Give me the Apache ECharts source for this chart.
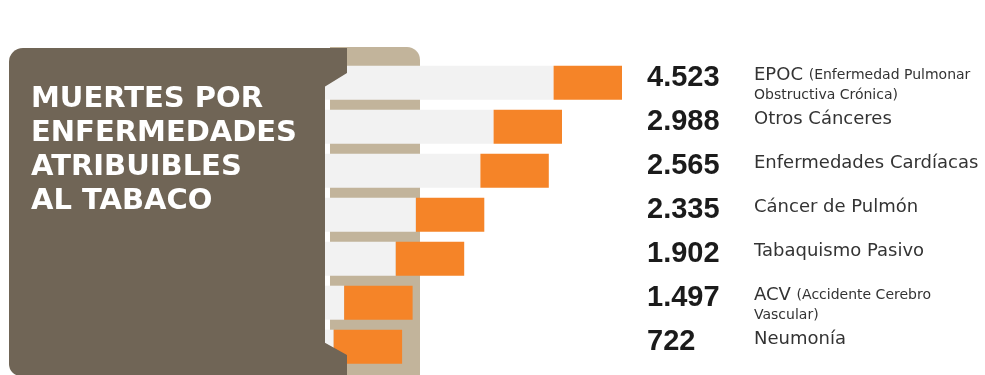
<!DOCTYPE html>
<html>
<head>
<meta charset="utf-8">
<script src="https://cdn.jsdelivr.net/npm/echarts@6/dist/echarts.min.js"></script>
<style>
  html, body { margin: 0; padding: 0; background: #fff; }
  #chart { width: 985px; height: 375px; }
</style>
</head>
<body>
<div id="chart"></div>
<script>
// causas de muerte, de arriba hacia abajo
var causas = ['EPOC', 'Otros Cánceres', 'Enfermedades Cardíacas', 'Cáncer de Pulmón',
              'Tabaquismo Pasivo', 'ACV', 'Neumonía'];
var detalles = [['(Enfermedad Pulmonar', 'Obstructiva Crónica)'], null, null, null, null,
                ['(Accidente Cerebro', 'Vascular)'], null];
var muertes = [4523, 2988, 2565, 2335, 1902, 1497, 722];
// largo de cada cigarrillo (% del más largo), no es proporcional a muertes
var largo = [100, 80, 75.6, 54.1, 47.4, 30.2, 26.7];
var filtro = 22.8;

var papel = largo.map(function (l) { return l - filtro; });
var filtros = largo.map(function () { return filtro; });

function miles(n) {
  return String(n).replace(/\B(?=(\d{3})+(?!\d))/g, '.');
}

var chart = echarts.init(document.getElementById('chart'));

var tituloFont = 'bold 29px "DejaVu Sans"';

var option = {
  backgroundColor: '#fff',
  animation: false,
  grid: { left: 322, top: 60.7, width: 300, height: 308 },
  xAxis: { type: 'value', min: 0, max: 100, show: false },
  yAxis: {
    type: 'category',
    inverse: true,
    position: 'right',
    data: causas,
    axisLine: { show: false },
    axisTick: { show: false },
    splitLine: { show: false },
    axisLabel: {
      interval: 0,
      margin: 25,
      formatter: function (v, i) {
        var s = '{num|' + miles(muertes[i]) + '}{big|' + v + '}';
        if (detalles[i]) {
          s = '{sp3| }\n' + s + '{big| }{sm|' + detalles[i][0] + '}\n{gap|}{sm2|' + detalles[i][1] + '}';
        } else {
          s = s + '\n{sp| }';
        }
        return s;
      },
      rich: {
        num: { fontFamily: 'Liberation Sans', fontWeight: 'bold', fontSize: 29, color: '#1b1b1b',
               width: 107, lineHeight: 22 },
        big: { fontFamily: 'DejaVu Sans', fontSize: 18, color: '#333', lineHeight: 18, verticalAlign: 'top' },
        sm: { fontFamily: 'DejaVu Sans', fontSize: 14, color: '#333', lineHeight: 18, verticalAlign: 'top',
              padding: [2, 0, 0, 0] },
        gap: { width: 107, lineHeight: 13 },
        sm2: { fontFamily: 'DejaVu Sans', fontSize: 14, color: '#333', lineHeight: 13 },
        sp: { fontSize: 1, lineHeight: 10 },
        sp3: { fontSize: 1, lineHeight: 3 }
      }
    }
  },
  series: [
    {
      name: 'papel', type: 'bar', stack: 'c', barWidth: 34, silent: true,
      itemStyle: { color: '#f2f2f2' },
      data: papel
    },
    {
      name: 'filtro', type: 'bar', stack: 'c', barWidth: 34, silent: true,
      itemStyle: { color: '#f58428' },
      data: filtros
    }
  ],
  graphic: [
    // atado de fondo
    { type: 'rect', z: 0, silent: true,
      shape: { x: 330, y: 47, width: 90, height: 340, r: [0, 13, 13, 0] },
      style: { fill: '#c2b49b' } },
    // recuadro marrón
    { type: 'rect', z: 10, silent: true,
      shape: { x: 9, y: 48, width: 316, height: 328, r: [14, 0, 0, 12] },
      style: { fill: '#706556' } },
    { type: 'polygon', z: 10, silent: true,
      shape: { points: [[322, 48], [347, 48], [347, 73], [322.7, 88], [322.7, 341.5],
                        [347, 355], [347, 376], [322, 376]] },
      style: { fill: '#706556' } },
    { type: 'text', z: 11, silent: true, x: 31, y: 99,
      style: { text: 'MUERTES POR', fill: '#fff', font: tituloFont, verticalAlign: 'middle' } },
    { type: 'text', z: 11, silent: true, x: 31, y: 133.5,
      style: { text: 'ENFERMEDADES', fill: '#fff', font: tituloFont, verticalAlign: 'middle' } },
    { type: 'text', z: 11, silent: true, x: 31, y: 167,
      style: { text: 'ATRIBUIBLES', fill: '#fff', font: tituloFont, verticalAlign: 'middle' } },
    { type: 'text', z: 11, silent: true, x: 31, y: 201,
      style: { text: 'AL TABACO', fill: '#fff', font: tituloFont, verticalAlign: 'middle' } }
  ]
};

chart.setOption(option);
</script>
</body>
</html>
